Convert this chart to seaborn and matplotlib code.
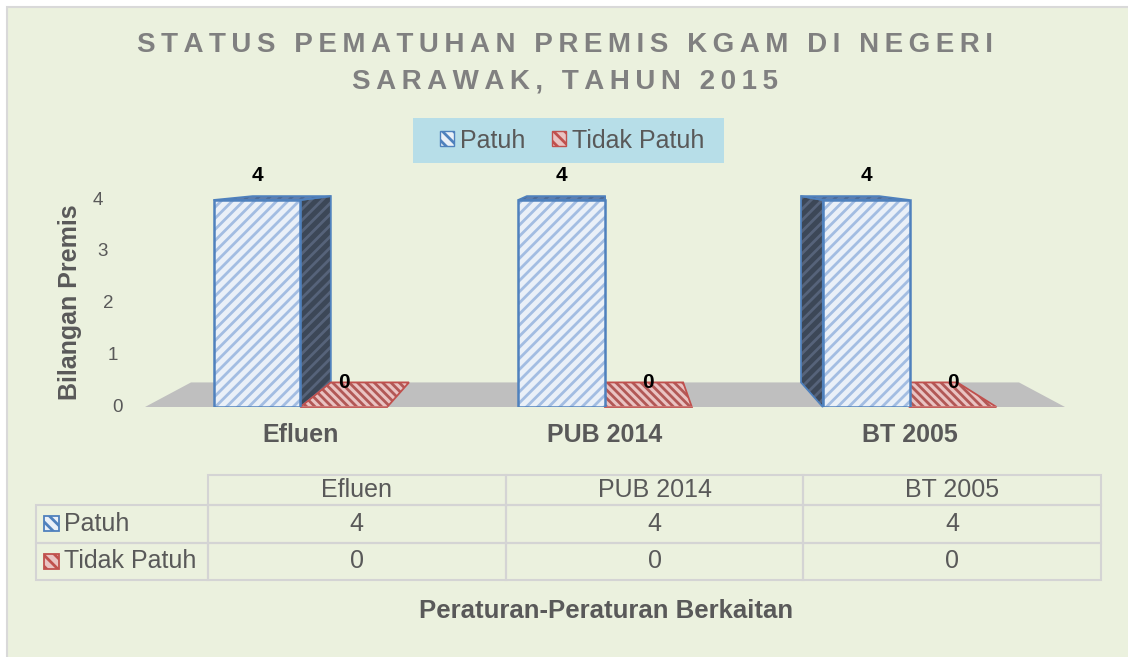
import matplotlib
matplotlib.use("Agg")
import numpy as np
import pandas as pd
import matplotlib.pyplot as plt
from matplotlib.patches import Polygon, Rectangle, Patch
from matplotlib.table import Table
import seaborn as sns

# data
categories = ["Efluen", "PUB 2014", "BT 2005"]
series_names = ["Patuh", "Tidak Patuh"]
patuh = [4, 4, 4]
tidak_patuh = [0, 0, 0]
y_ticks = [0, 1, 2, 3, 4]

title_lines = ["STATUS PEMATUHAN PREMIS KGAM DI NEGERI", "SARAWAK, TAHUN 2015"]
y_title = "Bilangan Premis"
x_title = "Peraturan-Peraturan Berkaitan"

BG = "#EBF1DE"
TXT = "#595959"
BLUE_EDGE = "#4F81BD"
BLUE_FACE = "#EAF0F8"
BLUE_HATCH = "#A3BDE2"
RED_EDGE = "#C0504D"
RED_FACE = "#E9C3C2"
RED_HATCH = "#B25856"
SIDE_FACE = "#3C4757"
SIDE_HATCH = "#56637A"
FLOOR = "#BFBFBF"

df = pd.DataFrame({
    "Peraturan": categories * 2,
    "Status": [series_names[0]] * 3 + [series_names[1]] * 3,
    "Bilangan": patuh + tidak_patuh,
})

sns.set_theme(style="white")
plt.rcParams["font.family"] = ["Liberation Sans", "DejaVu Sans"]
plt.rcParams["hatch.linewidth"] = 2.0

W, H = 1128, 657
fig = plt.figure(figsize=(W / 100, H / 100), dpi=100, facecolor="white")


def fx(px):
    return px / W


def fy(py):
    return 1 - py / H


# chart area with its border (only left/top edges fall inside the image)
fig.patches.append(Rectangle((fx(7), -0.02), 1.05, fy(7) + 0.02, transform=fig.transFigure,
                             facecolor=BG, edgecolor="#D9D9D9", linewidth=1.5, zorder=-10))

# title with widened letter spacing
for i, line in enumerate(title_lines):
    fig.text(fx(565), fy(44.5 + i * 37), "\u2009".join(line), ha="center", va="center",
             fontsize=20, fontweight="bold", color="#808080")

ax = fig.add_axes([fx(145), fy(407), fx(1065) - fx(145), fy(170) - fy(407)])
ax.set_facecolor("none")
sns.barplot(data=df, x="Peraturan", y="Bilangan", hue="Status", order=categories,
            hue_order=series_names, palette=[BLUE_FACE, RED_FACE], saturation=1,
            width=0.57, legend=False, ax=ax, zorder=3)
ax.set_xlim(-0.51, 2.51)
ax.set_ylim(0, 4.58)
sns.despine(ax=ax, left=True, bottom=True)

# simple perspective: back points pulled toward a vanishing point
VP = (1.0, 4.75)
T = 0.1


def back(x, y):
    return x + T * (VP[0] - x), y + T * (VP[1] - y)


def quad(pts, face, hatch_col, edge, hatch, z):
    ax.add_patch(Polygon(pts, closed=True, facecolor=face, edgecolor=hatch_col, hatch=hatch,
                         linewidth=0, zorder=z, clip_on=False))
    ax.add_patch(Polygon(pts, closed=True, fill=False, edgecolor=edge, linewidth=1.3,
                         zorder=z + 0.1, clip_on=False))


x_lo, x_hi = ax.get_xlim()
ax.add_patch(Polygon([(x_lo, 0), (x_hi, 0), back(x_hi, 0), back(x_lo, 0)], closed=True,
                     facecolor=FLOOR, edgecolor="none", zorder=1, clip_on=False))

blue_bars, red_bars = ax.containers[0], ax.containers[1]
for bar in blue_bars:
    x0, w, h = bar.get_x(), bar.get_width(), bar.get_height()
    x1 = x0 + w
    bar.set_hatch("///")
    bar.set_edgecolor(BLUE_HATCH)
    bar.set_linewidth(0)
    ax.add_patch(Rectangle((x0, 0), w, h, fill=False, edgecolor=BLUE_EDGE, linewidth=1.8, zorder=3.5))
    mid = x0 + w / 2
    if mid < VP[0] - 0.01:
        quad([(x1, 0), (x1, h), back(x1, h), back(x1, 0)], SIDE_FACE, SIDE_HATCH, BLUE_EDGE, "///", 2)
    elif mid > VP[0] + 0.01:
        quad([(x0, 0), (x0, h), back(x0, h), back(x0, 0)], SIDE_FACE, SIDE_HATCH, BLUE_EDGE, "///", 2)
    quad([(x0, h), (x1, h), back(x1, h), back(x0, h)], "#5E7EAE", "#4D6C9A", BLUE_EDGE, "///", 2.2)

for bar in red_bars:
    x0, w, h = bar.get_x(), bar.get_width(), bar.get_height()
    x1 = x0 + w
    quad([(x0, h), (x1, h), back(x1, h), back(x0, h)], RED_FACE, RED_HATCH, RED_EDGE, "\\\\\\\\", 2.5)

ax.bar_label(blue_bars, labels=[str(v) for v in patuh], padding=11, fontsize=15,
             fontweight="bold", color="black")
ax.bar_label(red_bars, labels=[str(v) for v in tidak_patuh], padding=11, fontsize=15,
             fontweight="bold", color="black")

# y tick labels sit on the slanted back wall, so each one steps left a little
ax.set_yticks(y_ticks)
ax.set_yticklabels([])
ax.tick_params(axis="y", length=0)
for v in y_ticks:
    ax.annotate(str(v), xy=(0, v), xycoords=ax.get_yaxis_transform(),
                xytext=(-22 - 5 * v, 0), textcoords="offset pixels",
                ha="right", va="center", fontsize=13.5, color=TXT, annotation_clip=False)

ax.tick_params(axis="x", length=0, pad=11.5)
for lab in ax.get_xticklabels():
    lab.set_fontsize(18)
    lab.set_fontweight("bold")
    lab.set_color(TXT)
ax.set_xlabel("")
ax.set_ylabel(y_title, fontsize=18, fontweight="bold", color=TXT)
ax.yaxis.set_label_coords(-0.069, 0.443)

# legend: light blue band behind two hatched keys
fig.patches.append(Rectangle((fx(413), fy(163)), fx(724) - fx(413), (163 - 118) / H,
                             transform=fig.transFigure, facecolor="#B7DEE8", edgecolor="none",
                             zorder=1))
handles = [Patch(facecolor=BLUE_FACE, edgecolor=BLUE_EDGE, hatch="\\\\\\"),
           Patch(facecolor=RED_FACE, edgecolor=RED_EDGE, hatch="\\\\\\")]
fig.legend(handles, series_names, loc="center", bbox_to_anchor=(fx(572), fy(140.5)),
           ncol=2, frameon=False, fontsize=18, handlelength=0.56, handleheight=0.56,
           handletextpad=0.24, columnspacing=1.04, borderpad=0.2, labelcolor=TXT)

# data table under the plot, built cell by cell
tab_left, tab_split, tab_right = 36, 208, 1101
tab_top, tab_head, tab_bottom = 475, 505, 580
tab_ax = fig.add_axes([fx(tab_left), fy(tab_bottom), fx(tab_right) - fx(tab_left),
                       fy(tab_top) - fy(tab_bottom)])
tab_ax.axis("off")
table = Table(tab_ax, bbox=[0, 0, 1, 1])
col_w = [tab_split - tab_left] + [(tab_right - tab_split) / 3] * 3
head_h = tab_head - tab_top
row_h = (tab_bottom - tab_head) / 2
corner = table.add_cell(0, 0, col_w[0], head_h, text="")
corner.visible_edges = "open"
for j, cat in enumerate(categories, start=1):
    table.add_cell(0, j, col_w[j], head_h, text=cat, loc="center")
for i, (name, vals) in enumerate(zip(series_names, [patuh, tidak_patuh]), start=1):
    table.add_cell(i, 0, col_w[0], row_h, text=name, loc="left")
    for j, v in enumerate(vals, start=1):
        table.add_cell(i, j, col_w[j], row_h, text=str(v), loc="center")
table.auto_set_font_size(False)
table.set_fontsize(18)
for (r, c), cell in table.get_celld().items():
    cell.set_edgecolor("#D4D4D4")
    cell.set_linewidth(1.5)
    cell.set_facecolor("none")
    cell.get_text().set_color(TXT)
    if c == 0:
        cell.PAD = 0.163
tab_ax.add_table(table)

for i, (face, edge) in enumerate([(BLUE_FACE, BLUE_EDGE), (RED_FACE, RED_EDGE)]):
    cy = tab_head + row_h * (i + 0.5)
    fig.patches.append(Rectangle((fx(44), fy(cy + 7.5)), fx(15), 15 / H, transform=fig.transFigure,
                                 facecolor=face, edgecolor=edge, hatch="\\\\\\", linewidth=1.3,
                                 zorder=5))

fig.text(fx(606), fy(611), x_title, ha="center", va="center", fontsize=18.5,
         fontweight="bold", color=TXT)

fig.savefig("out.png", dpi=100, facecolor=fig.get_facecolor())
